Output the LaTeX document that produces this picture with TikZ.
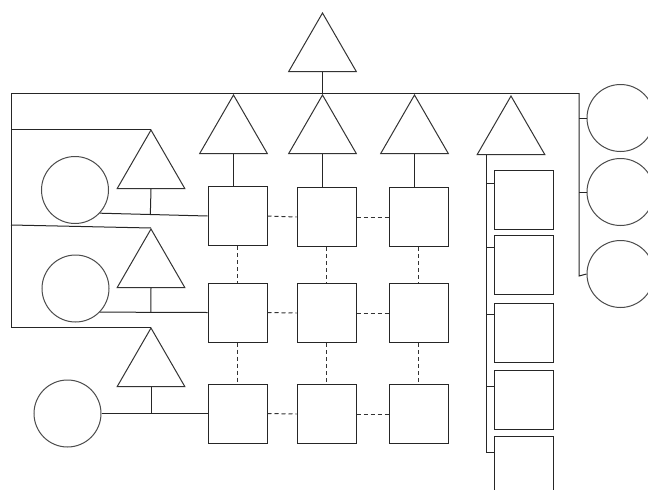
\documentclass[tikz,border=0pt]{standalone}
\usetikzlibrary{shapes.geometric,calc}
\begin{document}
\begin{tikzpicture}[x=1pt,y=-1pt,
  tri/.style={regular polygon,regular polygon sides=3,draw=black!80,line width=1pt,minimum size=78pt,inner sep=0pt,anchor=corner 1},
  sq/.style={rectangle,draw=black!85,line width=1pt,minimum size=59pt,inner sep=0pt},
  circ/.style={circle,draw=black!70,line width=1pt,minimum size=67pt,inner sep=0pt},
  link/.style={line width=1pt,draw=black!85},
  dlink/.style={line width=1pt,draw=black!80,dash pattern=on 4pt off 3pt}]
\useasboundingbox (0,0) rectangle (648,490);
\fill[white] (0,0) rectangle (648,490);
% top triangle and bus
\node[tri] (T0) at (322.5,12) {};
\coordinate (busL) at (11,93);
\coordinate (busR) at (579,93);
\coordinate (leftB) at (11,327);
\draw[link] (T0.side 2) -- (T0.side 2 |- busL);
\draw[link] (leftB) -- (busL) -- (busR);
% column triangles
\node[tri] (T1) at (233.5,94) {};
\node[tri] (T2) at (322.5,94) {};
\node[tri] (T3) at (414.5,94) {};
\node[tri] (T4) at (511,95) {};
% grid boxes
\node[sq] (B11) at (237.5,216) {};
\node[sq] (B12) at (326.5,217) {};
\node[sq] (B13) at (418.5,217) {};
\node[sq] (B21) at (237.5,312.5) {};
\node[sq] (B22) at (326.5,313) {};
\node[sq] (B23) at (418.5,313) {};
\node[sq] (B31) at (237.5,413.5) {};
\node[sq] (B32) at (326.5,414) {};
\node[sq] (B33) at (418.5,414) {};
\draw[link] (T1.side 2) -- (T1.side 2 |- B11.north);
\draw[link] (T2.side 2) -- (T2.side 2 |- B12.north);
\draw[link] (T3.side 2) -- (T3.side 2 |- B13.north);
% dashed grid links
\foreach \r in {1,2,3}{
  \draw[dlink] (B\r1.east) -- (B\r2.west);
  \draw[dlink] (B\r2.east) -- (B\r3.west);
}
\foreach \c in {1,2,3}{
  \draw[dlink] (B1\c.south) -- (B2\c.north);
  \draw[dlink] (B2\c.south) -- (B3\c.north);
}
% left triangles and circles
\node[tri] (L1) at (151,129) {};
\node[tri] (L2) at (151,228) {};
\node[tri] (L3) at (151,327) {};
\node[circ] (C1) at (75,190) {};
\node[circ] (C2) at (75.5,288.5) {};
\node[circ] (C3) at (67.5,413.5) {};
\coordinate (lv1) at (11,129);
\coordinate (lv2) at (11,225);
\draw[link] (lv1) -- (L1.corner 1);
\draw[link] (lv2) -- (L2.corner 1);
\draw[link] (leftB) -- (L3.corner 1);
\draw[link] (C1.-43) -- (B11.west);
\draw[link] (C2.-44) -- (B21.west);
\draw[link] (C3.east) -- (B31.west);
\draw[link] (L1.side 2) -- ($(C1.-43)!(L1.side 2)!(B11.west)$);
\draw[link] (L2.side 2) -- ($(C2.-44)!(L2.side 2)!(B21.west)$);
\draw[link] (L3.side 2) -- ($(C3.east)!(L3.side 2)!(B31.west)$);
% column 4
\node[sq] (D1) at (523.5,200) {};
\node[sq] (D2) at (523.5,264.5) {};
\node[sq] (D3) at (523.5,332.5) {};
\node[sq] (D4) at (523.5,399.5) {};
\node[sq] (D5) at (523.5,465.5) {};
\coordinate (sp2) at (486,452);
\coordinate (sp1) at (T4.side 2 -| sp2);
\draw[link] (sp1) -- (sp2);
\coordinate (k1) at (486,183);
\coordinate (k2) at (486,247);
\coordinate (k3) at (486,314);
\coordinate (k4) at (486,386);
\coordinate (k5) at (486,452);
\draw[link] (k1) -- (k1 -| D1.west);
\draw[link] (k2) -- (k2 -| D2.west);
\draw[link] (k3) -- (k3 -| D3.west);
\draw[link] (k4) -- (k4 -| D4.west);
\draw[link] (k5) -- (k5 -| D5.west);
% right circles
\node[circ] (R1) at (620.5,118) {};
\node[circ] (R2) at (620.5,192) {};
\node[circ] (R3) at (620.5,274) {};
\coordinate (rv) at (579,276);
\draw[link] (busR) -- (rv) -- (R3.west);
\draw[link] (R1.west) -- (R1.west -| busR);
\draw[link] (R2.west) -- (R2.west -| busR);
\end{tikzpicture}
\end{document}
